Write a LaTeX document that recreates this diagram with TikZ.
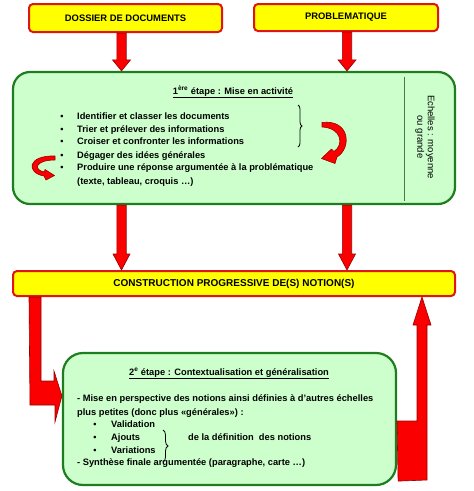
\documentclass[tikz,border=0pt]{standalone}
\usepackage{fontspec}
\setmainfont{Liberation Sans}
\usetikzlibrary{calc,decorations.pathreplacing}
\definecolor{yfill}{RGB}{255,255,0}
\definecolor{ydraw}{RGB}{225,20,20}
\definecolor{gfill}{RGB}{205,255,205}
\definecolor{gdraw}{RGB}{30,125,30}
\definecolor{arr}{RGB}{250,0,0}
\definecolor{arrline}{RGB}{150,0,0}
\newcommand\blockdown[5]{\draw[blk] let \p1=(#1), \p2=(#2) in (\x1-#3,\y1) -- (\x1-#3,\y2+#5) -- (\x1-#4,\y2+#5) -- (\x1,\y2) -- (\x1+#4,\y2+#5) -- (\x1+#3,\y2+#5) -- (\x1+#3,\y1) -- cycle;}
\begin{document}
\begin{tikzpicture}[x=1pt,y=-1pt,
  ybox/.style={draw=ydraw, fill=yfill, line width=2pt, rounded corners=4pt, font=\fontsize{9.4}{10}\selectfont\bfseries, inner sep=0pt},
  gbox/.style={draw=gdraw, fill=gfill, line width=2.2pt, rounded corners=17pt, inner sep=0pt},
  txt/.style={anchor=base west, inner sep=0pt, font=\fontsize{9.3}{10}\selectfont\bfseries},
  bul/.style={anchor=base, inner sep=0pt, font=\fontsize{9}{10}\selectfont\bfseries},
  blk/.style={fill=arr, draw=arrline, line width=0.6pt, line join=miter},
  brc/.style={draw=black, line width=0.8pt, decorate, decoration={brace, amplitude=#1}},
]
\useasboundingbox (0,0) rectangle (474,491);
% boxes
\node[ybox, minimum width=193pt, minimum height=28pt] (dossier) at (125.5,18) {DOSSIER DE DOCUMENTS};
\node[ybox, minimum width=184pt, minimum height=27pt] (probl) at (346,17.5) {PROBLEMATIQUE};
\node[gbox, minimum width=442pt, minimum height=132pt] (e1) at (234,138) {};
\node[ybox, minimum width=442pt, minimum height=25pt, font=\fontsize{10}{11}\selectfont\bfseries] (cons) at (234,283.5) {CONSTRUCTION PROGRESSIVE DE(S) NOTION(S)};
\node[gbox, rounded corners=20pt, minimum width=333pt, minimum height=132pt] (e2) at (229.5,419) {};
% divider
\draw[gdraw!60!gray, line width=0.8pt] ($(e1.north east)+(-52,6)$) -- ($(e1.south east)+(-52,-4)$);
% straight block arrows
\coordinate (a1s) at ($(dossier.south)+(-4,0)$);
\coordinate (a1e) at (a1s |- e1.north);
\coordinate (a2s) at ($(probl.south)+(1,0)$);
\coordinate (a2e) at (a2s |- e1.north);
\coordinate (a3s) at (a1s |- e1.south);
\coordinate (a3e) at (a1s |- cons.north);
\coordinate (a4s) at (a2s |- e1.south);
\coordinate (a4e) at (a2s |- cons.north);
\blockdown{a1s}{a1e}{4.7pt}{9pt}{11pt}
\blockdown{a2s}{a2e}{4.7pt}{9pt}{11pt}
\blockdown{a3s}{a3e}{4.7pt}{8.5pt}{16pt}
\blockdown{a4s}{a4e}{4.7pt}{8.5pt}{16pt}
% bent block arrows
\draw[blk] ($(cons.south west)+(17,0)$) -- ++(12,0) -- ++(0,84) -- ++(13,0) -- ++(0,-10)
  -- ($(e2.north west)+(0,44)$) -- (55,422) -- (55,405) -- (30,405) -- cycle;
\draw[blk] ($(e2.south east)+(1,-5)$) -- (427,480) -- (427,325) -- (431,325) -- (cons.south -| 422,0)
  -- (413,325) -- (417,325) -- (417,421) -- (397,421) -- cycle;
% curved arrows
\draw[blk, line join=round] (322,122.5) .. controls (350,119) and (352,148) .. (337,157) -- (335,163.5) -- (321.5,158.5) -- (331.5,149) -- (334,151.5) .. controls (344,145) and (342,128) .. (322,127) -- cycle;
\draw[blk, line join=round] (55,156) .. controls (27,155) and (26,173) .. (44,176) -- (46,180) -- (54.5,175.5) -- (45,169.5) -- (44.5,172) .. controls (33,170) and (35,160) .. (55,160) -- cycle;
% stage 1 text
\node[txt, anchor=base] (t1) at (233,94) {\underline{1\textsuperscript{ère} étape\ : Mise en activité}};
\node[bul] (b1) at (62,119) {\textbullet};
\node[bul] (b2) at (62,132) {\textbullet};
\node[bul] (b3) at (62,144.5) {\textbullet};
\node[bul] (b4) at (62,158) {\textbullet};
\node[bul] (b5) at (62,170.5) {\textbullet};
\node[txt] (l1) at (77,119) {Identifier et classer les documents};
\node[txt] (l2) at (77,132) {Trier et prélever des informations};
\node[txt] (l3) at (77,144.5) {Croiser et confronter les informations};
\node[txt] (l4) at (77,158) {Dégager des idées générales};
\node[txt] (l5) at (77,170.5) {Produire une réponse argumentée à la problématique};
\node[txt] (l6) at (77,184) {(texte, tableau, croquis …)};
\draw[brc=4pt] (298,105) -- (298,147);
\node[rotate=-90, align=center, font=\fontsize{9.5}{10.5}\selectfont, inner sep=0pt] (ech) at (425,137) {Echelles : moyenne\\ou grande};
% stage 2 text
\node[txt, anchor=base] (t2) at (229,375) {\underline{2\textsuperscript{e} étape\ : Contextualisation et généralisation}};
\node[txt] (m1) at (77,401) {- Mise en perspective des notions ainsi définies à d'autres échelles};
\node[txt] (m2) at (77,415) {plus petites (donc plus «générales») :};
\node[bul] (c1) at (95,427.5) {\textbullet};
\node[bul] (c2) at (95,440) {\textbullet};
\node[bul] (c3) at (95,453) {\textbullet};
\node[txt] (v1) at (111,427.5) {Validation};
\node[txt] (v2) at (111,440) {Ajouts};
\node[txt] (v3) at (111,453) {Variations};
\draw[brc=5pt] (163,430) -- (163,462);
\node[txt] (def) at (188,440) {de la définition\ \ des notions};
\node[txt] (m3) at (77,465) {- Synthèse finale argumentée (paragraphe, carte …)};
\end{tikzpicture}
\end{document}
